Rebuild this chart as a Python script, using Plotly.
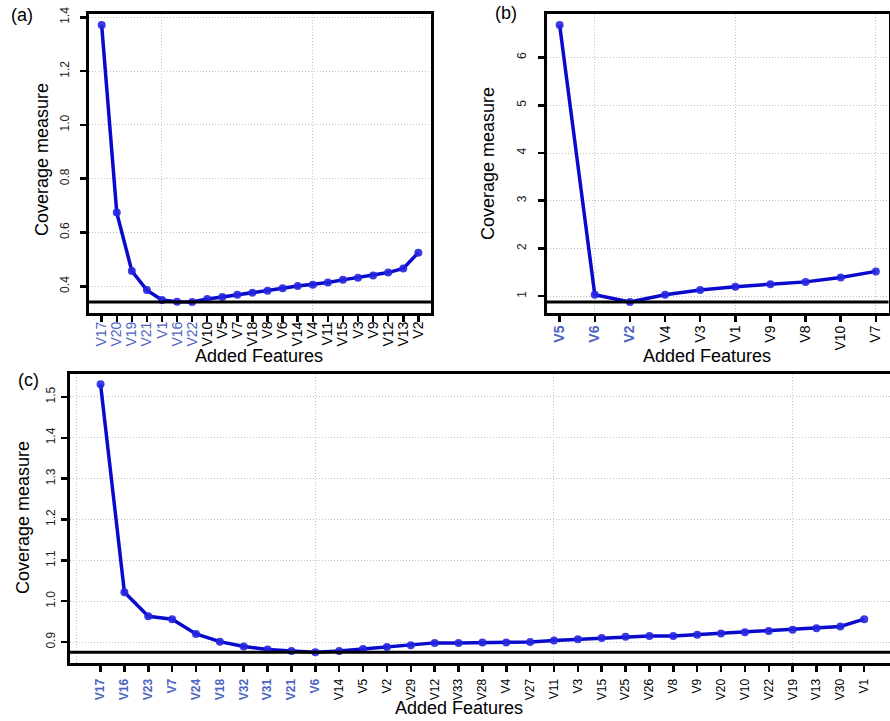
import plotly.graph_objects as go

# ---------------- data ----------------
a_features = ["V17", "V20", "V19", "V21", "V1", "V16", "V22", "V10", "V5", "V7", "V18",
              "V8", "V6", "V14", "V4", "V11", "V15", "V3", "V9", "V12", "V13", "V2"]
a_values = [1.371, 0.674, 0.457, 0.386, 0.349, 0.343, 0.342, 0.353, 0.360, 0.369, 0.376,
            0.384, 0.393, 0.401, 0.406, 0.414, 0.424, 0.432, 0.440, 0.451, 0.466, 0.525]
a_n_selected = 7

b_features = ["V5", "V6", "V2", "V4", "V3", "V1", "V9", "V8", "V10", "V7"]
b_values = [6.68, 1.03, 0.88, 1.03, 1.13, 1.20, 1.25, 1.30, 1.39, 1.52]
b_n_selected = 3

c_features = ["V17", "V16", "V23", "V7", "V24", "V18", "V32", "V31", "V21", "V6",
              "V14", "V5", "V2", "V29", "V12", "V33", "V28", "V4", "V27", "V11",
              "V3", "V15", "V25", "V26", "V8", "V9", "V20", "V10", "V22", "V19",
              "V13", "V30", "V1"]
c_values = [1.531, 1.022, 0.963, 0.956, 0.920, 0.901, 0.889, 0.882, 0.878, 0.875,
            0.878, 0.883, 0.888, 0.892, 0.898, 0.898, 0.899, 0.899, 0.900, 0.904,
            0.907, 0.910, 0.913, 0.915, 0.915, 0.918, 0.921, 0.924, 0.927, 0.930,
            0.934, 0.938, 0.956]
c_n_selected = 10

# ---------------- style ----------------
W, H = 890, 721
FONT = "Liberation Sans, Arial, sans-serif"
LINE_COL = "#0A0ACD"
MARK_COL = "#2626E0"
SEL_COL = "#4E63C2"
GRID_COL = "#C4C4C4"
GRID_DASH = "1px,2px"


def px(xp):
    return xp / W


def py(yp):
    return 1 - yp / H


def rng(vals):
    lo, hi = min(vals), max(vals)
    r = hi - lo
    return [lo - 0.04 * r, hi + 0.04 * r]


def xrng(n):
    return [1 - 0.04 * (n - 1), n + 0.04 * (n - 1)]


def labels(feats, nsel, bold):
    out = []
    for i, n in enumerate(feats):
        if i < nsel:
            t = f"<span style='color:{SEL_COL}'>{n}</span>"
            out.append(f"<b>{t}</b>" if bold else t)
        else:
            out.append(n)
    return out


fig = go.Figure()

panels = [
    dict(feat=a_features, vals=a_values, xa="x", ya="y"),
    dict(feat=b_features, vals=b_values, xa="x2", ya="y2"),
    dict(feat=c_features, vals=c_values, xa="x3", ya="y3"),
]

for p in panels:
    pos = list(range(1, len(p["feat"]) + 1))
    fig.add_trace(go.Scatter(
        x=pos, y=p["vals"], xaxis=p["xa"], yaxis=p["ya"],
        mode="lines+markers",
        line=dict(color=LINE_COL, width=3.5),
        marker=dict(color=MARK_COL, size=8, opacity=0.9),
        showlegend=False, hoverinfo="skip", cliponaxis=False))
    # threshold line at the minimum coverage value
    fig.add_shape(type="line", xref=p["xa"] + " domain", yref=p["ya"],
                  x0=0, x1=1, y0=min(p["vals"]), y1=min(p["vals"]),
                  line=dict(color="black", width=3))

common_x = dict(showline=True, linecolor="black", linewidth=3,
                ticks="outside", ticklen=6, tickwidth=2.5, tickcolor="black",
                showgrid=False, zeroline=False, tickmode="array",
                tickangle=-90, automargin=False)
common_y = dict(showline=True, linecolor="black", linewidth=3,
                ticks="outside", ticklen=6, tickwidth=2.5, tickcolor="black",
                showgrid=True, gridcolor=GRID_COL, griddash=GRID_DASH, gridwidth=1,
                zeroline=False, tickangle=-90, automargin=False,
                tickfont=dict(family=FONT, size=12, color="#222222"))


def minor_grid(t0, dt):
    return dict(tick0=t0, dtick=dt, showgrid=True, gridcolor=GRID_COL,
                griddash=GRID_DASH, gridwidth=1, ticklen=0)


fig.update_layout(
    template="none",
    width=W, height=H, margin=dict(l=0, r=0, t=0, b=0, autoexpand=False),
    paper_bgcolor="white", plot_bgcolor="white",
    font=dict(family=FONT, color="black"),
    xaxis=dict(**common_x, domain=[px(89), px(431)], anchor="y",
               range=xrng(len(a_features)),
               tickvals=list(range(1, len(a_features) + 1)),
               ticktext=labels(a_features, a_n_selected, False),
               tickfont=dict(family=FONT, size=14, color="black"),
               ticklabelstandoff=-6, mirror=True,
               minor=minor_grid(5, 10)),
    yaxis=dict(**common_y, domain=[py(313), py(14)], anchor="x",
               range=rng(a_values), tick0=0.4, dtick=0.2, tickformat=".1f",
               ticklabelstandoff=6, mirror=True),
    xaxis2=dict(**common_x, domain=[px(547), px(888.5)], anchor="y2",
                range=xrng(len(b_features)),
                tickvals=list(range(1, len(b_features) + 1)),
                ticktext=labels(b_features, b_n_selected, True),
                tickfont=dict(family=FONT, size=14, color="black"),
                ticklabelstandoff=-2, mirror=True,
                minor=minor_grid(2, 4)),
    yaxis2=dict(**common_y, domain=[py(313), py(14)], anchor="x2",
                range=rng(b_values), tick0=1, dtick=1,
                ticklabelstandoff=7, mirror=True),
    xaxis3=dict(**common_x, domain=[px(70), 1.0], anchor="y3",
                # R-style padded range, right edge of the box falls just outside the image
                range=[-0.28, 34.08],
                tickvals=list(range(1, len(c_features) + 1)),
                ticktext=labels(c_features, c_n_selected, True),
                tickfont=dict(family=FONT, size=12, color="black"),
                ticklabelstandoff=2, mirror=True,
                minor=minor_grid(0, 10)),
    yaxis3=dict(**common_y, domain=[py(663), py(373.5)], anchor="x3",
                range=rng(c_values), tick0=0.9, dtick=0.1, tickformat=".1f",
                ticklabelstandoff=1, mirror=False),
)

ann = []
# axis titles
for x, y in [(42, 160), (488, 164), (23, 518)]:
    ann.append(dict(x=px(x), y=py(y), xref="paper", yref="paper",
                    text="Coverage measure", textangle=-90, showarrow=False,
                    xanchor="center", yanchor="middle",
                    font=dict(family=FONT, size=18, color="black")))
for x, y in [(259, 356), (707, 356), (459, 708)]:
    ann.append(dict(x=px(x), y=py(y), xref="paper", yref="paper",
                    text="Added Features", showarrow=False,
                    xanchor="center", yanchor="middle",
                    font=dict(family=FONT, size=18, color="black")))
# panel letters
for t, x, y in [("(a)", 22, 15), ("(b)", 506, 13), ("(c)", 28, 380)]:
    ann.append(dict(x=px(x), y=py(y), xref="paper", yref="paper",
                    text=t, showarrow=False, xanchor="center", yanchor="middle",
                    font=dict(family=FONT, size=18, color="black")))

fig.update_layout(annotations=ann)
fig.write_html("out.html",
               config={"displayModeBar": False, "staticPlot": True},
               post_script="document.body.style.margin='0px';"
                           "document.body.style.overflow='hidden';")
